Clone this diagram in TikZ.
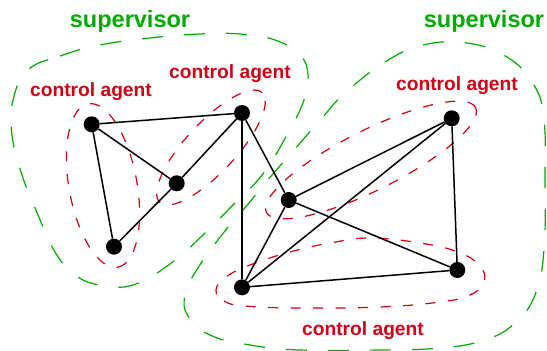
\documentclass[tikz,border=0pt]{standalone}
\usepackage{fontspec}
\setmainfont{Liberation Sans}
\usepackage{tikz}
\definecolor{supgreen}{RGB}{0,170,0}
\definecolor{agentred}{RGB}{210,0,20}

\begin{document}
\begin{tikzpicture}[x=1pt,y=-1pt,
		vertex/.style={circle,fill=black,inner sep=0pt,minimum size=16pt},
		link/.style={line width=1.5pt},
		agent/.style={draw=agentred,line width=1.2pt,dash pattern=on 10pt off 12.5pt},
		superv/.style={draw=supgreen,line width=1.2pt,dash pattern=on 21pt off 21pt},
		agentlabel/.style={text=agentred,font=\bfseries\fontsize{19.2}{21}\selectfont,anchor=base,inner sep=0pt},
		suplabel/.style={text=supgreen,font=\bfseries\fontsize{23.5}{25}\selectfont,anchor=base,inner sep=0pt}]
			\useasboundingbox (0,0) rectangle (547,351);
			\draw[superv] plot[smooth cycle, tension=0.7] coordinates {(28,70) (60,56) (100,45) (150,38) (200,34) (240,34) (275,40) (300,55) (308,75) (304,100) (287,135) (262,175) (233,205) (203,235) (170,264) (133,285) (100,285) (75,275) (55,252) (38,215) (22,175) (12,135) (13,100)};
			\draw[superv] plot[smooth cycle, tension=0.7] coordinates {(345,93) (385,62) (423,45) (467,43) (507,57) (534,85) (544,120) (545,180) (544,250) (535,295) (515,323) (485,340) (440,348) (380,350) (300,350) (250,345) (210,335) (188,316) (185,295) (196,271) (221,236) (249,203) (266,182) (294,150) (322,118)};
			\draw[agent, rotate around={-79.7:(103,185.5)}] (103,185.5) ellipse [x radius=83pt, y radius=34pt];
			\draw[agent, rotate around={47:(211,147.5)}] (211,147.5) ellipse [x radius=75pt, y radius=25pt];
			\draw[agent, rotate around={26.6:(371,160)}] (371,160) ellipse [x radius=117pt, y radius=30pt];
			\draw[agent] plot[smooth cycle, tension=0.7] coordinates {(216,290) (224,301) (245,306) (300,308) (380,307) (440,302) (470,295) (484,282) (480,266) (458,252) (420,243) (370,238) (330,243) (290,252) (250,265) (226,277)};
			\node[vertex] (a) at (91.7,124.3) {};
			\node[vertex] (b) at (242,113) {};
			\node[vertex] (c) at (176.7,183.3) {};
			\node[vertex] (d) at (114,246.7) {};
			\node[vertex] (e) at (288.7,200) {};
			\node[vertex] (f) at (451.7,118.3) {};
			\node[vertex] (g) at (457.3,270) {};
			\node[vertex] (h) at (242,287.3) {};
			\draw[link] (a) -- (b);
			\draw[link] (a) -- (c);
			\draw[link] (a) -- (d);
			\draw[link] (d) -- (c);
			\draw[link] (c) -- (b);
			\draw[link] (b) -- (e);
			\draw[link] (b) -- (h);
			\draw[link] (e) -- (f);
			\draw[link] (e) -- (g);
			\draw[link] (e) -- (h);
			\draw[link] (h) -- (f);
			\draw[link] (h) -- (g);
			\draw[link] (f) -- (g);
			\node[suplabel] (supleft) at (130,27) {supervisor};
			\node[suplabel] (supright) at (484,27) {supervisor};
			\node[agentlabel] (agentad) at (91,96.5) {control agent};
			\node[agentlabel] (agentcb) at (230,78) {control agent};
			\node[agentlabel] (agentef) at (457,90) {control agent};
			\node[agentlabel] (agenthg) at (363,335) {control agent};
		\end{tikzpicture}
\end{document}
